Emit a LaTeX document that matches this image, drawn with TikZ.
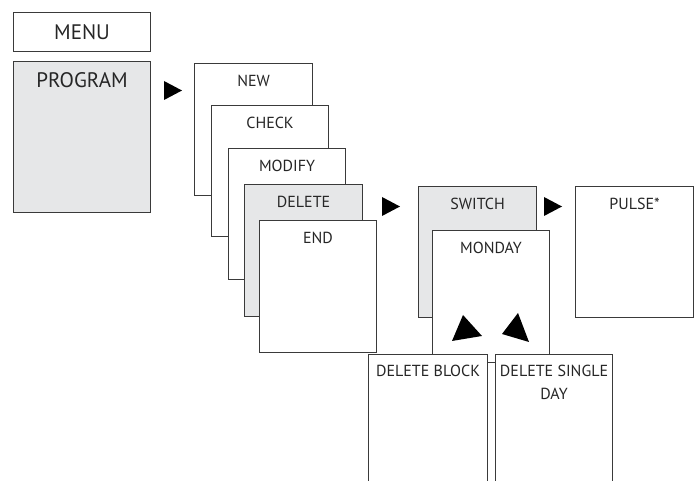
\documentclass[tikz,border=0pt]{standalone}
\usepackage{fontspec}
\setmainfont{PT Sans}
\usetikzlibrary{calc}
\definecolor{boxgray}{HTML}{E6E7E8}
\definecolor{edge}{HTML}{3A3A3A}
\tikzset{
  panel/.style={draw=edge, line width=1.1pt, fill=white, rectangle, inner sep=0pt, anchor=north west},
  greypanel/.style={panel, fill=boxgray},
  lbl/.style={inner sep=0pt, anchor=base, font=\fontsize{16}{23}\selectfont, text=black!85},
  biglbl/.style={lbl, font=\fontsize{21}{25}\selectfont},
  tri/.style={fill=black, draw=none}
}
\newcommand{\panelat}[6]{% style, name, x1, y1, x2, y2
  \node[#1, minimum width=#5pt-#3pt, minimum height=#6pt-#4pt] (#2) at (#3,#4) {};}
\begin{document}
\begin{tikzpicture}[x=1pt, y=-1pt]
\useasboundingbox (0,0) rectangle (697,481);
\clip (0,0) rectangle (697,481);
% MENU & PROGRAM
\panelat{panel}{menu}{13}{12}{150}{51}
\node[biglbl] (menut) at ($(menu.north)+(0,27.3)$) {MENU};
\panelat{greypanel}{program}{13}{61}{150}{212}
\node[biglbl] (programt) at ($(program.north)+(0,26.3)$) {PROGRAM};
% stack
\panelat{panel}{new}{194}{63}{312}{195}
\node[lbl] (newt) at ($(new.north)+(0,23.5)$) {NEW};
\panelat{panel}{check}{211}{105}{328}{236}
\node[lbl] (checkt) at ($(check.north)+(0,23.5)$) {CHECK};
\panelat{panel}{modify}{228}{148}{345}{279}
\node[lbl] (modifyt) at ($(modify.north)+(0,23.5)$) {MODIFY};
\panelat{greypanel}{delete}{244}{184}{362}{316}
\node[lbl] (deletet) at ($(delete.north)+(0,23.5)$) {DELETE};
\panelat{panel}{end}{259}{220}{376}{352}
\node[lbl] (endt) at ($(end.north)+(0,23.5)$) {END};
% switch / pulse
\panelat{greypanel}{switch}{418}{186}{536}{317}
\node[lbl] (switcht) at ($(switch.north)+(0,23.5)$) {SWITCH};
\panelat{panel}{pulse}{575}{186}{693}{317}
\node[lbl] (pulset) at ($(pulse.north)+(0,23.5)$) {PULSE*};
\panelat{panel}{monday}{432}{230}{549}{362}
\node[lbl] (mondayt) at ($(monday.north)+(0,23.5)$) {MONDAY};
% delete options
\panelat{panel}{dblock}{368}{354}{487}{500}
\node[lbl] (dblockt) at ($(dblock.north)+(0,22.5)$) {DELETE BLOCK};
\panelat{panel}{dday}{495}{354}{612}{500}
\node[lbl, align=center] (ddayt) at ($(dday.north)+(0,45.5)$) {DELETE SINGLE\\DAY};
% arrows
\fill[tri] (164,81) -- (164,100) -- (182,90.5) -- cycle;
\fill[tri] (382,197) -- (382,216) -- (400,206.5) -- cycle;
\fill[tri] (544,197) -- (544,216) -- (562,206.5) -- cycle;
\fill[tri] (463,315) -- (452,341) -- (482,336) -- cycle;
\fill[tri] (518,313) -- (502,334) -- (529,342) -- cycle;
\end{tikzpicture}
\end{document}
